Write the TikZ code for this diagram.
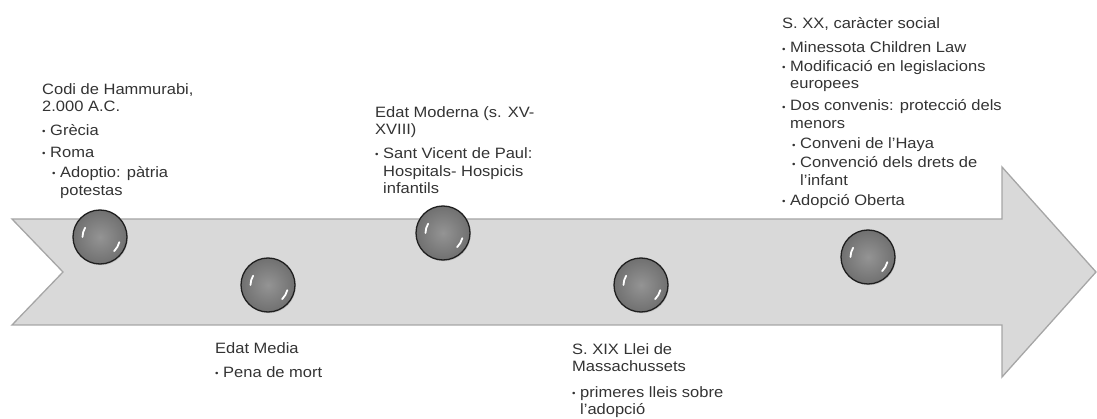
\documentclass[tikz,border=0pt]{standalone}
\usepackage{fontspec}
\setmainfont{Liberation Sans}[FakeStretch=1.1]
\usetikzlibrary{shadows}

\newcommand{\tlbullet}{\makebox[8pt][l]{\raisebox{0.6pt}{\fontsize{9}{9}\selectfont\textbullet}}}
\newcommand{\tlind}{\hspace*{8pt}}
\newcommand{\tlsub}{\hspace*{10pt}\tlbullet}
\newcommand{\tlsubind}{\hspace*{18pt}}

\begin{document}
\begin{tikzpicture}[x=1pt, y=-1pt,
	event/.style={circle, draw=black!88, line width=1.3pt, minimum size=54pt, inner sep=0pt,
		shading=radial, inner color=black!42, outer color=black!56,
		drop shadow={shadow xshift=0.8pt, shadow yshift=-1.2pt, opacity=0.3},
		path picture={
			\draw[white, line width=1.8pt, line cap=round] ([shift={(180:17.5pt)}]path picture bounding box.center) arc[start angle=180, end angle=148, radius=17.5pt];
			\draw[white, line width=1.8pt, line cap=round] ([shift={(-15:20pt)}]path picture bounding box.center) arc[start angle=-15, end angle=-45, radius=20pt];
		}},
	era/.style={anchor=north west, align=left, inner sep=0pt, text=black!80, font=\fontsize{15}{17.5}\selectfont}]
	\useasboundingbox (0,0) rectangle (1097,419);

	\draw[draw=black!35, fill=black!15, line width=1.3pt] (12,219) -- (1002,219) -- (1002,167) -- (1096,272) -- (1002,377) -- (1002,325) -- (12,325) -- (63,272) -- cycle;

	\node[event] (e1) at (100,237) {};
	\node[event] (e2) at (268,285) {};
	\node[event] (e3) at (443,233) {};
	\node[event] (e4) at (641,285) {};
	\node[event] (e5) at (868,257) {};

	\node[era] (t1) at (42,83) {Codi de Hammurabi,\\
		2.000 A.C.\\[6pt]
		\tlbullet Grècia\\[4.5pt]
		\tlbullet Roma\\[3pt]
		\tlsub Adoptio: pàtria\\
		\tlsubind potestas};
	\node[era] (t2) at (215,342) {Edat Media\\[6.5pt]
		\tlbullet Pena de mort};
	\node[era] (t3) at (375,106) {Edat Moderna (s. XV-\\
		XVIII)\\[6.5pt]
		\tlbullet Sant Vicent de Paul:\\
		\tlind Hospitals- Hospicis\\
		\tlind infantils};
	\node[era] (t4) at (572,343) {S. XIX Llei de\\
		Massachussets\\[8pt]
		\tlbullet primeres lleis sobre\\
		\tlind l’adopció};
	\node[era] (t5) at (782,17) {S. XX, caràcter social\\[7pt]
		\tlbullet Minessota Children Law\\[1pt]
		\tlbullet Modificació en legislacions\\
		\tlind europees\\[4.5pt]
		\tlbullet Dos convenis: protecció dels\\
		\tlind menors\\[3pt]
		\tlsub Conveni de l’Haya\\[1.5pt]
		\tlsub Convenció dels drets de\\
		\tlsubind l’infant\\[2.5pt]
		\tlbullet Adopció Oberta};
\end{tikzpicture}
\end{document}
